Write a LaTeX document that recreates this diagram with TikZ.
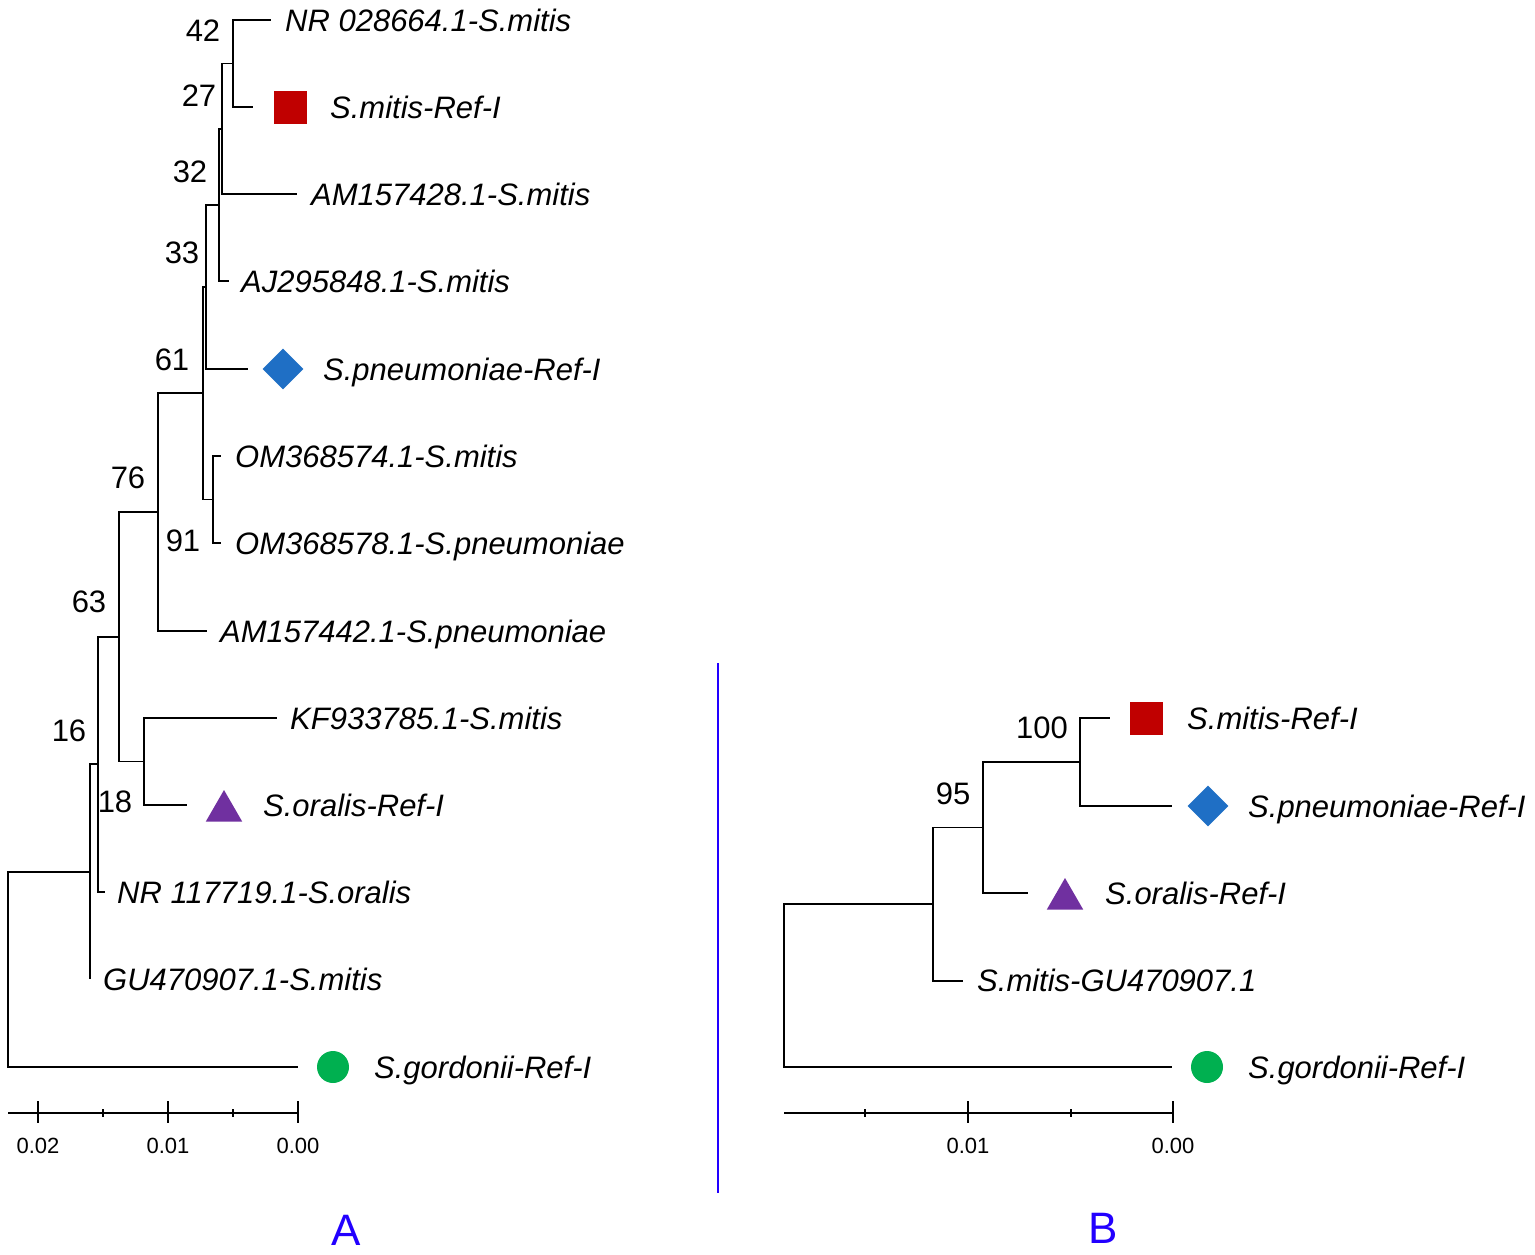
\documentclass[tikz,border=0pt]{standalone}
\usepackage{fontspec}
\setmainfont{Liberation Sans}
\usetikzlibrary{shapes.geometric}
\definecolor{cred}{HTML}{C00000}
\definecolor{cblue}{HTML}{1F6FC5}
\definecolor{cpurple}{HTML}{7030A0}
\definecolor{cgreen}{HTML}{00B050}
\definecolor{cletter}{HTML}{2200FF}
\begin{document}
\begin{tikzpicture}[x=1pt,y=-1pt,
  br/.style={line width=1.9pt,black},
  lab/.style={anchor=base west,inner sep=0pt,yshift=-11pt,font=\fontsize{31}{36}\selectfont\itshape},
  bs/.style={anchor=base,inner sep=0pt,yshift=-11pt,font=\fontsize{31}{36}\selectfont},
  sc/.style={anchor=base,inner sep=0pt,yshift=-8pt,font=\fontsize{22}{26}\selectfont},
  sq/.style={draw=none,fill=cred,rectangle,minimum size=33pt,inner sep=0pt},
  dia/.style={draw=none,fill=cblue,diamond,minimum size=41pt,inner sep=0pt},
  tri/.style={draw=none,fill=cpurple,regular polygon,regular polygon sides=3,minimum size=42pt,inner sep=0pt},
  dot/.style={draw=none,fill=cgreen,circle,minimum size=32pt,inner sep=0pt},
  letter/.style={anchor=base,inner sep=0pt,text=cletter,font=\fontsize{44}{50}\selectfont}]
\useasboundingbox (0,0) rectangle (1535,1254);
% ---------------- Tree A ----------------
\coordinate (tA1) at (271,20);
\coordinate (tA2) at (253,107);
\coordinate (tA3) at (297,194);
\coordinate (tA4) at (229,281);
\coordinate (tA5) at (248,369);
\coordinate (tA6) at (221,456);
\coordinate (tA7) at (221,543);
\coordinate (tA8) at (207,631);
\coordinate (tA9) at (277,718);
\coordinate (tA10) at (187,805);
\coordinate (tA11) at (105,892);
\coordinate (tA12) at (90,979);
\coordinate (tA13) at (298,1067);
\coordinate (n42) at (233,63.5);
\coordinate (n27) at (222,128.75);
\coordinate (n32) at (219,204.9);
\coordinate (n33) at (206,286.9);
\coordinate (n91) at (213,499.5);
\coordinate (n61) at (203,393.2);
\coordinate (n76) at (158,512.1);
\coordinate (n18) at (144,761.5);
\coordinate (n63) at (119,636.8);
\coordinate (n16) at (98,764.4);
\coordinate (nA) at (90,871.7);
\coordinate (rootA) at (8,969.35);
\draw[br] (n42) |- (tA1);
\draw[br] (n42) |- (tA2);
\draw[br] (n27) |- (n42);
\draw[br] (n27) |- (tA3);
\draw[br] (n32) |- (n27);
\draw[br] (n32) |- (tA4);
\draw[br] (n33) |- (n32);
\draw[br] (n33) |- (tA5);
\draw[br] (n91) |- (tA6);
\draw[br] (n91) |- (tA7);
\draw[br] (n61) |- (n33);
\draw[br] (n61) |- (n91);
\draw[br] (n76) |- (n61);
\draw[br] (n76) |- (tA8);
\draw[br] (n18) |- (tA9);
\draw[br] (n18) |- (tA10);
\draw[br] (n63) |- (n76);
\draw[br] (n63) |- (n18);
\draw[br] (n16) |- (n63);
\draw[br] (n16) |- (tA11);
\draw[br] (nA) |- (n16);
\draw[br] (nA) |- (tA12);
\draw[br] (rootA) |- (nA);
\draw[br] (rootA) |- (tA13);
% symbols A
\node[sq] (sqA) at (290,107) {};
\node[dia] (diaA) at (283,369) {};
\node[tri] (triA) at (224,811) {};
\node[dot] (dotA) at (333,1067) {};
% labels A
\node[lab] (lA1) at (285,20) {NR 028664.1-S.mitis};
\node[lab] (lA2) at (330,107) {S.mitis-Ref-I};
\node[lab] (lA3) at (311,194) {AM157428.1-S.mitis};
\node[lab] (lA4) at (241,281) {AJ295848.1-S.mitis};
\node[lab] (lA5) at (323,369) {S.pneumoniae-Ref-I};
\node[lab] (lA6) at (235,456) {OM368574.1-S.mitis};
\node[lab] (lA7) at (235,543) {OM368578.1-S.pneumoniae};
\node[lab] (lA8) at (220,631) {AM157442.1-S.pneumoniae};
\node[lab] (lA9) at (290,718) {KF933785.1-S.mitis};
\node[lab] (lA10) at (263,805) {S.oralis-Ref-I};
\node[lab] (lA11) at (117,892) {NR 117719.1-S.oralis};
\node[lab] (lA12) at (103,979) {GU470907.1-S.mitis};
\node[lab] (lA13) at (374,1067) {S.gordonii-Ref-I};
% bootstrap A
\node[bs] (b42) at (203,30) {42};
\node[bs] (b27) at (199,95) {27};
\node[bs] (b32) at (190,171) {32};
\node[bs] (b33) at (182,252) {33};
\node[bs] (b61) at (172,359) {61};
\node[bs] (b76) at (128,477) {76};
\node[bs] (b91) at (183,540) {91};
\node[bs] (b63) at (89,601) {63};
\node[bs] (b16) at (69,730) {16};
\node[bs] (b18) at (115,801) {18};
% scale A
\coordinate (sA0) at (8,1113);
\coordinate (sA1) at (298,1113);
\draw[br] (sA0) -- (sA1);
\foreach \x/\t in {38/0.02,168/0.01,298/0.00}{
  \draw[br] (\x,1101) -- (\x,1123);
  \node[sc] at (\x,1145) {\t};
}
\foreach \x in {103,233}{\draw[br] (\x,1109) -- (\x,1117);}
% ---------------- divider ----------------
\coordinate (d0) at (718,663);
\coordinate (d1) at (718,1193);
\draw[cletter,line width=1.3pt] (d0) -- (d1);
\node[letter] (LA) at (346,1245) {A};
\node[letter] (LB) at (1103,1243) {B};
% ---------------- Tree B ----------------
\coordinate (tB1) at (1110,718);
\coordinate (tB2) at (1172,806);
\coordinate (tB3) at (1028,893);
\coordinate (tB4) at (963,981);
\coordinate (tB5) at (1172,1067);
\coordinate (n100) at (1080,762);
\coordinate (n95) at (983,827.5);
\coordinate (nB) at (933,904.2);
\coordinate (rootB) at (784,985.6);
\draw[br] (n100) |- (tB1);
\draw[br] (n100) |- (tB2);
\draw[br] (n95) |- (n100);
\draw[br] (n95) |- (tB3);
\draw[br] (nB) |- (n95);
\draw[br] (nB) |- (tB4);
\draw[br] (rootB) |- (nB);
\draw[br] (rootB) |- (tB5);
\node[sq] (sqB) at (1146,718) {};
\node[dia] (diaB) at (1208,806) {};
\node[tri] (triB) at (1065,899) {};
\node[dot] (dotB) at (1207,1067) {};
\node[lab] (lB1) at (1187,718) {S.mitis-Ref-I};
\node[lab] (lB2) at (1248,806) {S.pneumoniae-Ref-I};
\node[lab] (lB3) at (1105,893) {S.oralis-Ref-I};
\node[lab] (lB4) at (977,980) {S.mitis-GU470907.1};
\node[lab] (lB5) at (1248,1067) {S.gordonii-Ref-I};
\node[bs] (b100) at (1042,727) {100};
\node[bs] (b95) at (953,793) {95};
\coordinate (sB0) at (784,1113);
\coordinate (sB1) at (1173,1113);
\draw[br] (sB0) -- (sB1);
\foreach \x/\t in {968/0.01,1173/0.00}{
  \draw[br] (\x,1101) -- (\x,1123);
  \node[sc] at (\x,1145) {\t};
}
\foreach \x in {865,1071}{\draw[br] (\x,1109) -- (\x,1117);}
\end{tikzpicture}
\end{document}
